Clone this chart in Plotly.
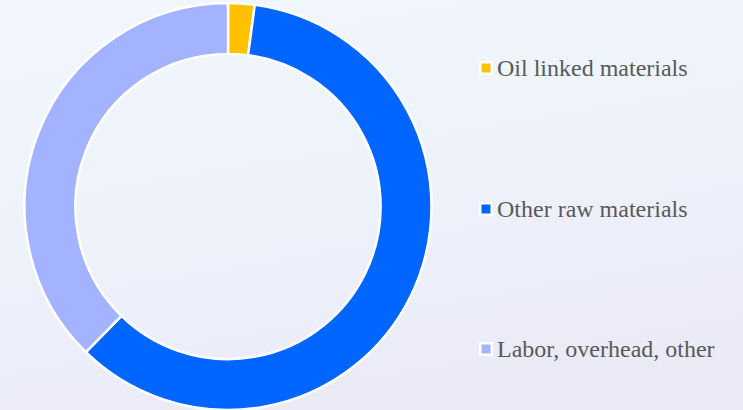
import base64
import plotly.graph_objects as go

labels = ["Oil linked materials", "Other raw materials", "Labor, overhead, other"]
values = [2.1, 60.2, 37.7]
colors = ["#FFC000", "#0066FF", "#A3B3FF"]

W, H = 743, 410

svg = f"""<svg xmlns='http://www.w3.org/2000/svg' width='{W}' height='{H}'>
<defs><linearGradient id='g' x1='0' y1='0' x2='0.3' y2='1'>
<stop offset='0' stop-color='#f1f7fd'/><stop offset='0.5' stop-color='#eef3fb'/><stop offset='1' stop-color='#ebebf8'/>
</linearGradient></defs><rect width='{W}' height='{H}' fill='url(#g)'/></svg>"""
bg = "data:image/svg+xml;base64," + base64.b64encode(svg.encode()).decode()

cx, r = 228, 204
fig = go.Figure(go.Pie(
    labels=labels, values=values, hole=0.75, sort=False, direction="clockwise",
    rotation=0, marker=dict(colors=colors, line=dict(color="white", width=2.5)),
    textinfo="none", hoverinfo="label+percent", showlegend=False,
    domain=dict(x=[(cx - r) / W, (cx + r) / W], y=[0, 1 - 3 / H]),
))

ys = [68, 209, 349]
shapes = []
annotations = []
for lab, col, yy in zip(labels, colors, ys):
    mx = 486
    shapes.append(dict(type="rect", xref="paper", yref="paper",
                       x0=(mx - 7) / W, x1=(mx + 7) / W, y0=1 - (yy + 7) / H, y1=1 - (yy - 7) / H,
                       fillcolor="white", line=dict(width=0), layer="above"))
    shapes.append(dict(type="rect", xref="paper", yref="paper",
                       x0=(mx - 4.5) / W, x1=(mx + 4.5) / W, y0=1 - (yy + 4.5) / H, y1=1 - (yy - 4.5) / H,
                       fillcolor=col, line=dict(width=0), layer="above"))
    annotations.append(dict(text=lab, xref="paper", yref="paper", x=495 / W, y=1 - yy / H,
                            xanchor="left", yanchor="middle", showarrow=False,
                            font=dict(family="Times New Roman, Liberation Serif, DejaVu Serif, serif",
                                      size=24, color="#595959")))

fig.update_layout(
    width=W, height=H, margin=dict(l=0, r=0, t=0, b=0),
    paper_bgcolor="#eef3fb", plot_bgcolor="rgba(0,0,0,0)",
    images=[dict(source=bg, xref="paper", yref="paper", x=0, y=1, sizex=1, sizey=1,
                 xanchor="left", yanchor="top", sizing="stretch", layer="below")],
    shapes=shapes, annotations=annotations,
)
fig.write_html("out.html")
